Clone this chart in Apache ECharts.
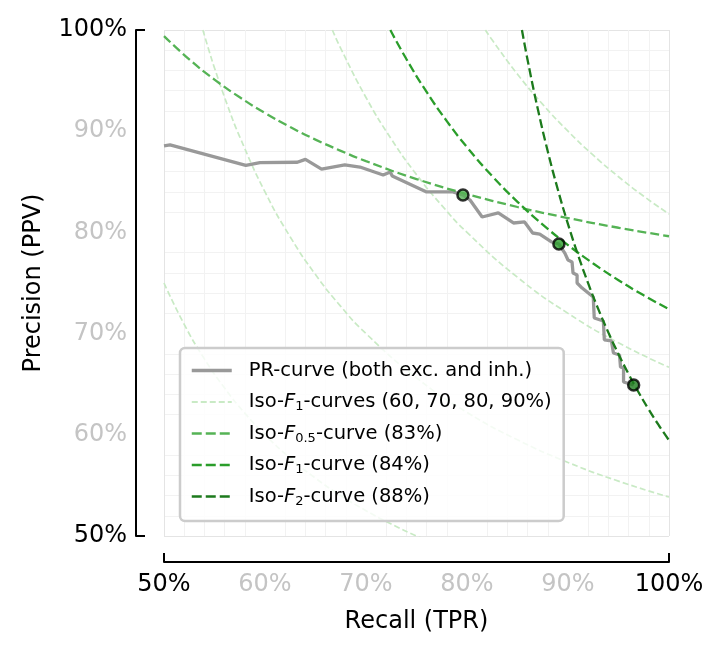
<!DOCTYPE html>
<html><head><meta charset="utf-8">
<script src="https://cdn.jsdelivr.net/npm/echarts@6/dist/echarts.min.js"></script>
<style>html,body{margin:0;padding:0;background:#fff}#c{width:725px;height:652px}</style>
</head><body><div id="c"></div>
<script>
// ---- data (recall, precision) ----
const prCurve = [[0.500,0.8855],[0.506,0.8864],[0.581,0.8662],[0.595,0.8690],[0.632,0.8693],[0.640,0.8722],[0.656,0.8626],[0.679,0.8668],[0.694,0.8646],[0.717,0.8567],[0.724,0.8597],[0.726,0.8557],[0.760,0.8400],[0.786,0.8400],[0.796,0.8370],[0.803,0.8320],[0.815,0.8152],[0.831,0.8192],[0.846,0.8093],[0.857,0.8103],[0.865,0.7994],[0.872,0.7984],[0.884,0.7905],[0.891,0.7885],[0.897,0.7793],[0.900,0.7727],[0.904,0.7708],[0.905,0.7599],[0.909,0.7579],[0.909,0.7500],[0.914,0.7450],[0.925,0.7362],[0.926,0.7154],[0.935,0.7125],[0.936,0.6937],[0.943,0.6927],[0.945,0.6808],[0.951,0.6789],[0.952,0.6670],[0.955,0.6660],[0.955,0.6522],[0.965,0.6492]];
const opPoints = [[0.796,0.8370],[0.891,0.7885],[0.965,0.6492]];
const isoF1_60 = [[0.50,0.7500],[0.52,0.7091],[0.54,0.6750],[0.56,0.6462],[0.58,0.6214],[0.60,0.6000],[0.625,0.5769],[0.65,0.5571],[0.675,0.5400],[0.70,0.5250],[0.725,0.5118],[0.75,0.5000],[0.775,0.4895]];
const isoF1_70 = [[0.5385,1.0],[0.545,0.9782],[0.55,0.9625],[0.5625,0.9265],[0.575,0.8944],[0.60,0.8400],[0.625,0.7955],[0.65,0.7583],[0.675,0.7269],[0.70,0.7000],[0.75,0.6563],[0.80,0.6222],[0.85,0.5950],[0.90,0.5727],[0.95,0.5542],[1.00,0.5385]];
const isoF1_80 = [[0.6667,1.0],[0.675,0.9818],[0.70,0.9333],[0.725,0.8923],[0.75,0.8571],[0.775,0.8267],[0.80,0.8000],[0.85,0.7556],[0.90,0.7200],[0.95,0.6909],[1.00,0.6667]];
const isoF1_90 = [[0.8182,1.0],[0.825,0.9900],[0.85,0.9563],[0.875,0.9265],[0.90,0.9000],[0.925,0.8763],[0.95,0.8550],[0.975,0.8357],[1.00,0.8182]];
const isoF05_83 = [[0.50,0.9940],[0.525,0.9710],[0.55,0.9510],[0.575,0.9335],[0.60,0.9180],[0.625,0.9041],[0.65,0.8917],[0.675,0.8806],[0.70,0.8704],[0.75,0.8527],[0.80,0.8379],[0.85,0.8251],[0.90,0.8142],[0.95,0.8046],[1.00,0.7962]];
const isoF1_84 = [[0.7241,1.0],[0.74,0.9713],[0.76,0.9388],[0.78,0.9100],[0.80,0.8842],[0.825,0.8556],[0.85,0.8302],[0.875,0.8077],[0.90,0.7875],[0.925,0.7693],[0.95,0.7528],[0.975,0.7378],[1.00,0.7241]];
const isoF2_88 = [[0.8544,1.0],[0.86,0.9703],[0.87,0.9224],[0.88,0.8800],[0.89,0.8422],[0.90,0.8082],[0.91,0.7775],[0.92,0.7496],[0.93,0.7242],[0.94,0.7010],[0.95,0.6797],[0.96,0.6600],[0.97,0.6418],[0.98,0.6249],[0.99,0.6092],[1.00,0.5946]];
const tickValues = [0.5,0.6,0.7,0.8,0.9,1.0];
const tickLabels = ['50%','60%','70%','80%','90%','100%'];
const legendNames = ['pr','isoF1','f05','f1','f2'];
const legendLabels = {
  pr: 'PR-curve (both exc. and inh.)',
  isoF1: 'Iso-{i|F}{s|1}-curves (60, 70, 80, 90%)',
  f05: 'Iso-{i|F}{s|0.5}-curve (83%)',
  f1: 'Iso-{i|F}{s|1}-curve (84%)',
  f2: 'Iso-{i|F}{s|2}-curve (88%)'
};

// ---- styling ----
const FONT = 'DejaVu Sans';
const C_LIGHT = '#c9eac5', C_F05 = '#55b355', C_F1 = '#2a9d2a', C_F2 = '#1c7a1c', C_PR = '#999999';
const dotColors = [C_F05, C_F1, C_F2];
const legendLine = {
  pr: { color: C_PR, width: 3.5, type: 'solid' },
  isoF1: { color: C_LIGHT, width: 1.8, type: [6, 3] },
  f05: { color: C_F05, width: 2.6, type: [10, 4] },
  f1: { color: C_F1, width: 2.6, type: [10, 4] },
  f2: { color: C_F2, width: 2.6, type: [10, 4] }
};
const isEnd = v => Math.abs(v - 0.5) < 1e-6 || Math.abs(v - 1) < 1e-6;
const fmt = v => { const i = tickValues.findIndex(t => Math.abs(t - v) < 1e-6); return i >= 0 ? tickLabels[i] : ''; };

function axis(extra, labelMargin) {
  return Object.assign({
    type: 'value', min: 0.5, max: 1.0, interval: 0.1,
    axisLine: { show: true, onZero: false, lineStyle: { color: '#000', width: 2 } },
    axisTick: { show: true, inside: true, length: 9, customValues: [0.5, 1.0], lineStyle: { color: '#000', width: 2 } },
    axisLabel: { formatter: fmt, fontFamily: FONT, fontSize: 24, color: v => isEnd(v) ? '#000' : '#c4c4c4', margin: labelMargin, showMinLabel: true, showMaxLabel: true },
    splitLine: { show: true, lineStyle: { color: '#e4e4e4', width: 1 } },
    minorTick: { show: false, splitNumber: 5 },
    minorSplitLine: { show: true, lineStyle: { color: '#f2f2f2', width: 1 } },
    nameLocation: 'middle',
    nameTextStyle: { fontFamily: FONT, fontSize: 24, color: '#000' }
  }, extra);
}

const dashed = (name, data, color, width, dash, z) => ({
  type: 'line', name, data, symbol: 'none', showSymbol: false, smooth: true, z,
  lineStyle: { color, width, type: dash }, itemStyle: { color }, clip: true, silent: true
});

const series = [
  dashed('isoF1', isoF1_60, C_LIGHT, 1.7, [6, 3], 1),
  dashed('isoF1', isoF1_70, C_LIGHT, 1.7, [6, 3], 1),
  dashed('isoF1', isoF1_80, C_LIGHT, 1.7, [6, 3], 1),
  dashed('isoF1', isoF1_90, C_LIGHT, 1.7, [6, 3], 1),
  { type: 'line', name: 'pr', data: prCurve, symbol: 'none', showSymbol: false, z: 2,
    lineStyle: { color: C_PR, width: 3.3 }, itemStyle: { color: C_PR }, clip: true, silent: true },
  dashed('f05', isoF05_83, C_F05, 2.3, [9, 4], 3),
  dashed('f1', isoF1_84, C_F1, 2.3, [9, 4], 3),
  dashed('f2', isoF2_88, C_F2, 2.3, [9, 4], 3),
  { type: 'scatter', name: 'ops', z: 5, symbolSize: 11, silent: true,
    data: opPoints.map((p, i) => ({ value: p, itemStyle: { color: dotColors[i], borderColor: '#000', borderWidth: 2.5 } })) }
];

const chart = echarts.init(document.getElementById('c'), null, { renderer: 'canvas' });
chart.setOption({
  animation: false,
  backgroundColor: '#fff',
  grid: { left: 164, right: 56, top: 30, bottom: 116, containLabel: false },
  xAxis: axis({ offset: 26, name: 'Recall (TPR)', nameGap: 48 }, 11),
  yAxis: axis({ offset: 28, name: 'Precision (PPV)', nameGap: 90, nameRotate: 90 }, 9),
  legend: {
    data: legendNames.map(n => ({ name: n, lineStyle: legendLine[n] })),
    orient: 'vertical', left: 180, top: 348,
    itemWidth: 40, itemHeight: 12, itemGap: 8.5,
    padding: [11, 12, 13, 10],
    backgroundColor: 'rgba(255,255,255,0.8)', borderColor: '#cccccc', borderWidth: 2.5, borderRadius: 5,
    itemStyle: { opacity: 0 },
    formatter: n => legendLabels[n],
    selectedMode: false,
    textStyle: { fontFamily: FONT, fontSize: 19.5, color: '#000', lineHeight: 23, padding: [0, 0, 0, 12],
      rich: { i: { fontStyle: 'italic', fontFamily: FONT, fontSize: 19.5, lineHeight: 23 },
              s: { fontFamily: FONT, fontSize: 13, lineHeight: 23, verticalAlign: 'bottom' } } }
  },
  series
});
</script></body></html>
